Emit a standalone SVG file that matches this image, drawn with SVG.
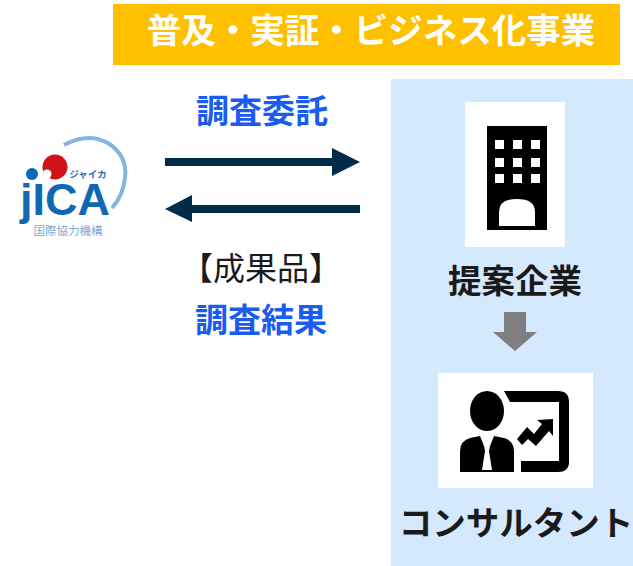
<svg xmlns="http://www.w3.org/2000/svg" width="633" height="566" viewBox="0 0 633 566">
<style>
text{font-family:"Noto Sans CJK JP","Noto Sans",sans-serif;font-weight:700;text-anchor:middle}
.b{fill:#1a5cf0;font-size:33px}
.k{fill:#1a1a1a;font-size:33.500px}
.dk{fill:#002b49}
</style>
<rect width="633" height="566" fill="#fff"/>
<rect x="391" y="79" width="242" height="487" fill="#d4e8fe"/>
<g id="title"><rect x="113" y="4" width="507" height="61" fill="#ffc000"/>
<text x="371" y="43" font-size="34.500" fill="#fff">普及・実証・ビジネス化事業</text></g>
<g id="jica">
<path d="M64 145Q88 132 108 143Q128 156 125 178Q123 196 112 208" fill="none" stroke="#5b9bd5" stroke-width="4" opacity=".75"/>
<circle cx="55" cy="167" r="12.500" fill="#d0121b"/>
<text x="65" y="215" font-size="44" fill="#0f68b4" style="font-family:'Liberation Sans',sans-serif;font-weight:700" textLength="90" lengthAdjust="spacingAndGlyphs">jICA</text>
<circle cx="32" cy="174" r="6" fill="#0f68b4"/>
<circle cx="47" cy="174" r="4.500" fill="#fff"/>
<text x="88" y="178" font-size="9.500" fill="#2a6fb5">ジャイカ</text>
<text x="68" y="235" font-size="11.500" fill="#7da8d2" style="font-weight:400">国際協力機構</text>
</g>
<g id="label-itaku"><text class="b" x="262" y="123">調査委託</text></g>
<g id="label-seika"><text x="261" y="280" font-size="32" fill="#1a1a1a" style="font-weight:400">【成果品】</text>
<text class="b" x="261" y="332">調査結果</text></g>
<g id="connectors">
<path class="dk" d="M165 158H332V148L360 162L332 176V166H165Z"/>
<path class="dk" d="M360 205H192V195L165 209L192 222V213H360Z"/>
<path fill="#7f7f7f" d="M504 312H526V332H537L515 351L493 332H504Z"/>
</g>
<g id="company">
<rect x="465" y="102" width="100" height="145" fill="#fff"/>
<path fill-rule="evenodd" d="M487 126H547V230H487ZM495 140V149H504V140ZM513 140V149H522V140ZM531 140V149H540V140ZM495 158V167H504V158ZM513 158V167H522V158ZM531 158V167H540V158ZM495 174V183H504V174ZM513 174V183H522V174ZM531 174V183H540V174ZM499 226H535V212Q535 199 517 199Q499 199 499 212Z"/>
<text class="k" x="515" y="293">提案企業</text>
</g>
<g id="consultant">
<rect x="438" y="373" width="155" height="115" fill="#fff"/>
<ellipse cx="487" cy="411" rx="17" ry="20"/>
<path d="M460 472V451Q460 441 470 438L480 436L484 446L485 451L482 470H492L489 451L490 446L494 436L504 438Q514 441 514 451V472Z"/>
<path d="M504 391H558Q569 391 569 402V462Q569 472 558 472H521V461H559V402H510Z"/>
<path d="M517 439L527 427L534 434L542 424L537 420L553 419L553 436L549 431L536 446L528 439L522 445Z"/>
<text class="k" x="516" y="535">コンサルタント</text>
</g>
</svg>
